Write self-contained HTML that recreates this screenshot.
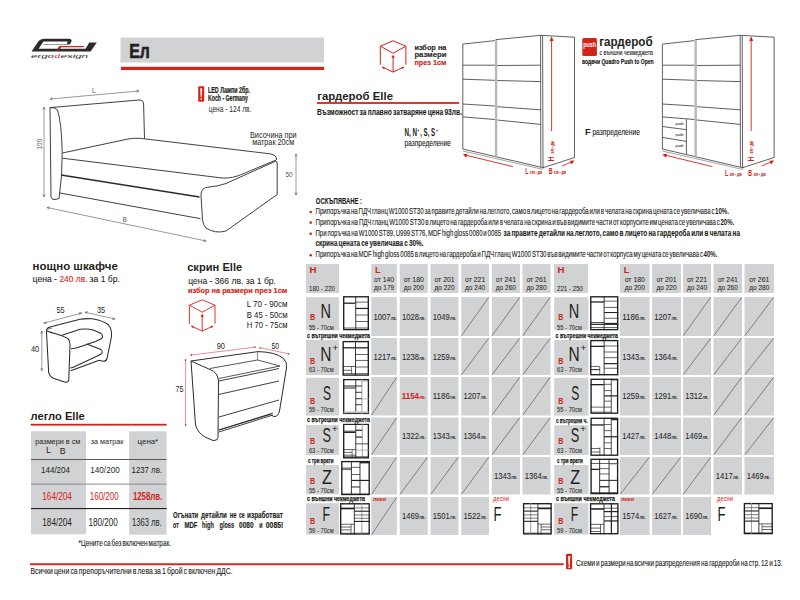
<!DOCTYPE html>
<html><head><meta charset="utf-8"><title>Elle</title>
<style>
html,body{margin:0;padding:0;background:#fff;}
svg{display:block;}
text{font-family:"Liberation Sans", sans-serif;}
</style></head>
<body>
<svg width="800" height="600" viewBox="0 0 800 600">
<rect x="0" y="0" width="800" height="600" fill="#fff"/>
<g>
<path d="M31.5,51.5 L39,40.5 L44,40.8 L38.6,48.8 L58.2,48.8 L56.4,51.5 Z" stroke="none" stroke-width="0" fill="#2b2a29"/>
<path d="M39,40.5 Q41,38.8 45,38.8 L68.5,38.8 Q72.8,39 71.2,42 L69.8,44.3 L66.6,44.3 L67.8,41.6 L44,41.6 Z" stroke="none" stroke-width="0" fill="#2b2a29"/>
<path d="M43.6,44 L70,44 L69.4,45.1 L42.9,45.1 Z" stroke="none" stroke-width="0" fill="#9a9a9a"/>
<path d="M56.9,49.6 L59.4,46.1 L84.2,46.1 L83.6,47.3 L61.2,47.3 L59.6,49.6 Z" stroke="none" stroke-width="0" fill="#d22418"/>
<path d="M89.2,42.4 L96.8,42.4 L90.6,51.5 L56.4,51.5 L58.2,48.8 L85.6,48.8 Z" stroke="none" stroke-width="0" fill="#2b2a29"/>
</g>
<text x="31" y="57.6" font-size="5.6" textLength="23" lengthAdjust="spacingAndGlyphs" fill="#2b2a29" font-style="italic">ergo</text>
<text x="54.5" y="57.6" font-size="5.6" textLength="5.5" lengthAdjust="spacingAndGlyphs" fill="#d22418" font-style="italic">d</text>
<text x="60.5" y="57.6" font-size="5.6" textLength="27.5" lengthAdjust="spacingAndGlyphs" fill="#2b2a29" font-style="italic">esign</text>
<rect x="120.5" y="37.5" width="203.50" height="25.00" fill="#d1d2d4"/>
<text x="129.2" y="58.4" font-size="20.35" font-weight="bold" textLength="20.6" lengthAdjust="spacingAndGlyphs" fill="#231f20" stroke="#231f20" stroke-width="0.6">Ел</text>
<rect x="121" y="66.8" width="203.20" height="3.20" fill="#d22418"/>
<path d="M50,107.6 L139,100 Q143.5,99.8 143.6,104 L144.5,138.5" stroke="#2b2b2b" stroke-width="0.9" fill="none"/>
<path d="M50,107.6 L51,197 Q51.5,200 55,199.5 L59,198.5 Q62.5,176 62.2,152 Q61.5,122 57.5,110 Q55,107 50,107.6" stroke="#2b2b2b" stroke-width="0.9" fill="none"/>
<path d="M62.4,153 L128,139 Q133,138 140,138.3 L270,153.8 Q277,155 276.5,160" stroke="#2b2b2b" stroke-width="0.9" fill="none"/>
<path d="M62.4,158.2 L222,178 Q232,179 245,173 L276,160" stroke="#2b2b2b" stroke-width="0.9" fill="none"/>
<path d="M61,175 L199.5,197" stroke="#2b2b2b" stroke-width="1.3" fill="none"/>
<path d="M60,193 L200.5,218.7" stroke="#2b2b2b" stroke-width="0.9" fill="none"/>
<path d="M201,195 Q200.8,187.5 209,187 Q217,186.6 226,183.5 L276,161 L277.2,163 L277.2,194.5 L226,231 Q215,234 206,228 Q203,225 202.5,220 Z" stroke="#2b2b2b" stroke-width="0.9" fill="none"/>
<path d="M50,99 L139,91" stroke="#555" stroke-width="0.6" fill="none"/>
<path d="M50,99 l2.5,-1.6 M50,99 l2.7,0.9 M139,91 l-2.5,1.6 M139,91 l-2.7,-0.9" stroke="#555" stroke-width="0.6" fill="none"/>
<text x="92" y="93" font-size="6.5" fill="#555">L</text>
<path d="M44,107 L44,197" stroke="#555" stroke-width="0.6" fill="none"/>
<path d="M44,107 l-1.2,2.6 M44,107 l1.2,2.6 M44,197 l-1.2,-2.6 M44,197 l1.2,-2.6" stroke="#555" stroke-width="0.6" fill="none"/>
<text x="0" y="0" font-size="6.5" fill="#555" transform="translate(41.5,149.5) rotate(-90)">100</text>
<path d="M47,207.5 L206,241" stroke="#555" stroke-width="0.6" fill="none"/>
<path d="M47,207.5 l2.8,-0.5 M47,207.5 l2.2,1.6 M206,241 l-2.8,0.5 M206,241 l-2.2,-1.6" stroke="#555" stroke-width="0.6" fill="none"/>
<text x="122.5" y="221.5" font-size="6.5" fill="#555">B</text>
<path d="M296,154 L296,195" stroke="#555" stroke-width="0.6" fill="none"/>
<path d="M296,154 l-1.2,2.6 M296,154 l1.2,2.6 M296,195 l-1.2,-2.6 M296,195 l1.2,-2.6" stroke="#555" stroke-width="0.6" fill="none"/>
<text x="285.5" y="177" font-size="6.5" fill="#555">50</text>
<rect x="198.2" y="86.3" width="6" height="15.4" rx="1" fill="#d22418"/>
<path d="M200.2,88.3 L202.2,88.3 L201.7,97 L200.7,97 Z" stroke="none" stroke-width="0" fill="#fff"/>
<rect x="200.6" y="98" width="1.20" height="1.70" fill="#fff"/>
<text x="208" y="93.2" font-size="8.28" font-weight="bold" textLength="42" lengthAdjust="spacingAndGlyphs" fill="#231f20" stroke="#231f20" stroke-width="0.2">LED Лампи 2бр.</text>
<text x="208" y="101" font-size="8.28" font-weight="bold" textLength="40" lengthAdjust="spacingAndGlyphs" fill="#231f20" stroke="#231f20" stroke-width="0.2">Koch - Germany</text>
<text x="208.7" y="112.2" font-size="8.58" textLength="42.8" lengthAdjust="spacingAndGlyphs" fill="#231f20">цена -  124 лв.</text>
<text x="250" y="137.7" font-size="8.58" textLength="46.7" lengthAdjust="spacingAndGlyphs" fill="#231f20">Височина при</text>
<text x="252.2" y="145.2" font-size="8.58" textLength="42" lengthAdjust="spacingAndGlyphs" fill="#231f20">матрак 20см</text>
<path d="M393.1,40.8 L380.3,46.199999999999996 L380.3,64.8 M393.1,40.8 L405.90000000000003,46.199999999999996 L405.90000000000003,64.8 M380.3,46.199999999999996 L393.1,53.22 L405.90000000000003,46.199999999999996" stroke="#d22418" stroke-width="1.0" fill="none"/>
<path d="M393.1,72.1 L393.1,56.22 M393.1,72.1 L382.3,67.1 M393.1,72.1 L403.90000000000003,67.1" stroke="#d22418" stroke-width="1.0" fill="none"/>
<path d="M393.1,54.72 l-1.7600000000000002,3.08 l3.5200000000000005,0 Z" stroke="none" stroke-width="0" fill="#d22418"/>
<path d="M381.90000000000003,66.8 l2.9,0.3 l-1.0,2.2 Z" stroke="none" stroke-width="0" fill="#d22418"/>
<path d="M404.3,66.8 l-2.9,0.3 l1.0,2.2 Z" stroke="none" stroke-width="0" fill="#d22418"/>
<text x="414.4" y="50.3" font-size="7.56" font-weight="bold" textLength="32" lengthAdjust="spacingAndGlyphs" fill="#2b2a29" stroke="#2b2a29" stroke-width="0.15">избор на</text>
<text x="414.4" y="57.4" font-size="7.56" font-weight="bold" textLength="32" lengthAdjust="spacingAndGlyphs" fill="#2b2a29" stroke="#2b2a29" stroke-width="0.15">размери</text>
<text x="414.4" y="65.3" font-size="7.56" font-weight="bold" textLength="32" lengthAdjust="spacingAndGlyphs" fill="#d22418" stroke="#d22418" stroke-width="0.15">през 1см</text>
<path d="M462.8,44.1 L495.0,40.6 M495.5,39.7 L540.6,35.3 L574.5,37.2 L574.5,157.5 L543.0,167.7" stroke="#2b2b2b" stroke-width="0.75" fill="none"/>
<path d="M462.8,44.1 L462.8,149 L543.0,167.7" stroke="#2b2b2b" stroke-width="0.75" fill="none"/>
<path d="M462.8,151 L543.0,169.4" stroke="#666" stroke-width="0.6" fill="none"/>
<path d="M540.6,35.3 L540.8,167 M542.6,35.8 L543.0,168.5" stroke="#2b2b2b" stroke-width="0.75" fill="none"/>
<rect x="494.9" y="40.3" width="2.40" height="116.20" fill="#b8b8ba"/>
<path d="M462.8,65.2 L494.9,65.2 M497.3,65.5 L540.6,65.2" stroke="#2b2b2b" stroke-width="0.75" fill="none"/>
<path d="M462.8,79.2 L494.9,80.3 M497.3,80.5 L540.6,81.6" stroke="#2b2b2b" stroke-width="0.75" fill="none"/>
<path d="M462.8,104 L494.9,106 M497.3,106.7 L540.6,109.8" stroke="#2b2b2b" stroke-width="0.75" fill="none"/>
<path d="M462.8,116.9 L494.9,119.5 M497.3,120 L540.6,124.4" stroke="#2b2b2b" stroke-width="0.75" fill="none"/>
<path d="M551.6,38 L551.6,131" stroke="#d22418" stroke-width="0.9" fill="none"/>
<path d="M551.6,36.3 l-2,4.6 l4,0 Z" stroke="none" stroke-width="0" fill="#d22418"/>
<text x="0" y="0" font-size="8.28" font-weight="bold" textLength="4.8" lengthAdjust="spacingAndGlyphs" fill="#d22418" transform="translate(554.2,161.5) rotate(-90)">H</text>
<text x="0" y="0" font-size="5.0" font-weight="bold" textLength="12.2" lengthAdjust="spacingAndGlyphs" fill="#d22418" transform="translate(553.8,153.4) rotate(-90)" stroke="#d22418" stroke-width="0.1">sm - дм</text>
<path d="M464.5,154.9 L512.8,166.6" stroke="#d22418" stroke-width="0.9" fill="none"/>
<path d="M462.8,154.4 l4.6,-0.9 l-1,4.2 Z" stroke="none" stroke-width="0" fill="#d22418"/>
<path d="M562.0,166.1 L572.5,161.5" stroke="#d22418" stroke-width="0.9" fill="none"/>
<path d="M574.5,160.6 l-4.6,0.1 l1.6,3.9 Z" stroke="none" stroke-width="0" fill="#d22418"/>
<text x="525.3" y="173.9" font-size="8.58" font-weight="bold" textLength="3.2" lengthAdjust="spacingAndGlyphs" fill="#d22418">L</text>
<text x="529.8" y="173.6" font-size="5.0" font-weight="bold" textLength="12.2" lengthAdjust="spacingAndGlyphs" fill="#d22418" stroke="#d22418" stroke-width="0.1">sm - дм</text>
<text x="548.7" y="173.9" font-size="8.58" font-weight="bold" textLength="3.8" lengthAdjust="spacingAndGlyphs" fill="#d22418">B</text>
<text x="553.8" y="173.6" font-size="5.0" font-weight="bold" textLength="12.2" lengthAdjust="spacingAndGlyphs" fill="#d22418" stroke="#d22418" stroke-width="0.1">sm - дм</text>
<path d="M662.4,44.1 L694.6,40.6 M695.1,39.7 L740.2,35.3 L774.1,37.2 L774.1,157.5 L742.6,167.7" stroke="#2b2b2b" stroke-width="0.75" fill="none"/>
<path d="M662.4,44.1 L662.4,149 L742.6,167.7" stroke="#2b2b2b" stroke-width="0.75" fill="none"/>
<path d="M662.4,151 L742.6,169.4" stroke="#666" stroke-width="0.6" fill="none"/>
<path d="M740.2,35.3 L740.4,167 M742.2,35.8 L742.6,168.5" stroke="#2b2b2b" stroke-width="0.75" fill="none"/>
<rect x="694.5" y="40.3" width="2.40" height="116.20" fill="#b8b8ba"/>
<path d="M662.4,65.2 L694.5,65.2 M696.9,65.5 L740.2,65.2" stroke="#2b2b2b" stroke-width="0.75" fill="none"/>
<path d="M662.4,79.2 L694.5,80.3 M696.9,80.5 L740.2,81.6" stroke="#2b2b2b" stroke-width="0.75" fill="none"/>
<path d="M662.4,104 L694.5,106 M696.9,106.7 L740.2,109.8" stroke="#2b2b2b" stroke-width="0.75" fill="none"/>
<path d="M662.4,116.9 L694.5,119.5 M696.9,120 L740.2,124.4" stroke="#2b2b2b" stroke-width="0.75" fill="none"/>
<path d="M662.4,126.5 L686.4,129.7 M662.4,137.4 L686.4,141.4 M686.4,119.2 L686.4,154" stroke="#2b2b2b" stroke-width="0.75" fill="none"/>
<text x="675.6" y="124.5" font-size="3.6" textLength="8" lengthAdjust="spacingAndGlyphs" fill="#333" stroke="#333" stroke-width="0.08">push</text>
<text x="675.6" y="135.5" font-size="3.6" textLength="8" lengthAdjust="spacingAndGlyphs" fill="#333" stroke="#333" stroke-width="0.08">push</text>
<text x="675.6" y="147" font-size="3.6" textLength="8" lengthAdjust="spacingAndGlyphs" fill="#333" stroke="#333" stroke-width="0.08">push</text>
<path d="M751.2,38 L751.2,131" stroke="#d22418" stroke-width="0.9" fill="none"/>
<path d="M751.2,36.3 l-2,4.6 l4,0 Z" stroke="none" stroke-width="0" fill="#d22418"/>
<text x="0" y="0" font-size="8.28" font-weight="bold" textLength="4.8" lengthAdjust="spacingAndGlyphs" fill="#d22418" transform="translate(753.8,161.5) rotate(-90)">H</text>
<text x="0" y="0" font-size="5.0" font-weight="bold" textLength="12.2" lengthAdjust="spacingAndGlyphs" fill="#d22418" transform="translate(753.4,153.4) rotate(-90)" stroke="#d22418" stroke-width="0.1">sm - дм</text>
<path d="M664.1,154.9 L712.4,166.6" stroke="#d22418" stroke-width="0.9" fill="none"/>
<path d="M662.4,154.4 l4.6,-0.9 l-1,4.2 Z" stroke="none" stroke-width="0" fill="#d22418"/>
<path d="M761.6,166.1 L772.1,161.5" stroke="#d22418" stroke-width="0.9" fill="none"/>
<path d="M774.1,160.6 l-4.6,0.1 l1.6,3.9 Z" stroke="none" stroke-width="0" fill="#d22418"/>
<text x="724.9" y="176.0" font-size="8.58" font-weight="bold" textLength="3.2" lengthAdjust="spacingAndGlyphs" fill="#d22418">L</text>
<text x="729.4" y="175.7" font-size="5.0" font-weight="bold" textLength="12.2" lengthAdjust="spacingAndGlyphs" fill="#d22418" stroke="#d22418" stroke-width="0.1">sm - дм</text>
<text x="748.3" y="176.0" font-size="8.58" font-weight="bold" textLength="3.8" lengthAdjust="spacingAndGlyphs" fill="#d22418">B</text>
<text x="753.4" y="175.7" font-size="5.0" font-weight="bold" textLength="12.2" lengthAdjust="spacingAndGlyphs" fill="#d22418" stroke="#d22418" stroke-width="0.1">sm - дм</text>
<rect x="582.3" y="37.9" width="14.6" height="18" rx="1.5" fill="#d22418"/>
<text x="583.2" y="46.5" font-size="7.56" font-weight="bold" textLength="12.8" lengthAdjust="spacingAndGlyphs" fill="#fff">push</text>
<text x="599.2" y="45.7" font-size="12.06" font-weight="bold" textLength="53.4" lengthAdjust="spacingAndGlyphs" fill="#231f20">гардероб</text>
<text x="599.5" y="55" font-size="6.6" textLength="53.5" lengthAdjust="spacingAndGlyphs" fill="#231f20" stroke="#231f20" stroke-width="0.12">с външни чекмеджета</text>
<text x="582" y="63.7" font-size="7.56" font-weight="bold" textLength="71.7" lengthAdjust="spacingAndGlyphs" fill="#231f20" stroke="#231f20" stroke-width="0.2">водачи Quadro Push to Open</text>
<text x="317.3" y="99.6" font-size="11.19" font-weight="bold" textLength="75.7" lengthAdjust="spacingAndGlyphs" fill="#231f20">гардероб Elle</text>
<rect x="317" y="102.1" width="142.00" height="1.80" fill="#d22418"/>
<text x="317" y="115" font-size="9.45" font-weight="bold" textLength="145" lengthAdjust="spacingAndGlyphs" fill="#231f20" word-spacing="-1" stroke="#231f20" stroke-width="0.1">Възможност за плавно затваряне цена 93лв.</text>
<text x="404.4" y="135.7" font-size="11.19" font-weight="bold" textLength="12.5" lengthAdjust="spacingAndGlyphs" fill="#231f20">N, N</text>
<text x="417.2" y="131.5" font-size="4.5" font-weight="bold" textLength="2" lengthAdjust="spacingAndGlyphs" fill="#231f20">+</text>
<text x="420.2" y="135.7" font-size="11.19" font-weight="bold" textLength="15" lengthAdjust="spacingAndGlyphs" fill="#231f20">, S, S</text>
<text x="436.0" y="131.5" font-size="4.5" font-weight="bold" textLength="2" lengthAdjust="spacingAndGlyphs" fill="#231f20">+</text>
<text x="404.6" y="145.8" font-size="9.01" textLength="46.4" lengthAdjust="spacingAndGlyphs" fill="#231f20" stroke="#231f20" stroke-width="0.12">разпределение</text>
<text x="584.9" y="134.7" font-size="9.16" font-weight="bold" fill="#231f20">F</text>
<text x="592.4" y="134.7" font-size="9.01" textLength="47.6" lengthAdjust="spacingAndGlyphs" fill="#231f20" stroke="#231f20" stroke-width="0.12">разпределение</text>
<text x="315.8" y="203.5" font-size="8.72" font-weight="bold" textLength="46.2" lengthAdjust="spacingAndGlyphs" fill="#231f20" stroke="#231f20" stroke-width="0.15">ОСКЪПЯВАНЕ :</text>
<circle cx="310.7" cy="212.0" r="1.3" fill="#d22418"/>
<text x="315.5" y="214.0" font-size="8.72" textLength="399.0" lengthAdjust="spacingAndGlyphs" fill="#231f20" word-spacing="-1.2" stroke="#231f20" stroke-width="0.12">Припоръчка на ПДЧ гланц W1000 ST30  за правите детайли на леглото, само в лицето на гардероба или в челата на скрина цената се увеличава с </text>
<text x="715" y="214.0" font-size="8.72" font-weight="bold" textLength="14" lengthAdjust="spacingAndGlyphs" fill="#231f20">10%.</text>
<circle cx="310.7" cy="222.6" r="1.3" fill="#d22418"/>
<text x="315.5" y="224.6" font-size="8.72" textLength="404.4" lengthAdjust="spacingAndGlyphs" fill="#231f20" word-spacing="-1.2" stroke="#231f20" stroke-width="0.12">Припоръчка на ПДЧ гланц W1000 ST30 в лицето на гардероба или в челата на скрина и във видимите части от корпусите им цената се увеличава с  </text>
<text x="720.4" y="224.6" font-size="8.72" font-weight="bold" textLength="14" lengthAdjust="spacingAndGlyphs" fill="#231f20">20%.</text>
<circle cx="310.7" cy="233.8" r="1.3" fill="#d22418"/>
<text x="315.5" y="235.8" font-size="8.72" textLength="185.5" lengthAdjust="spacingAndGlyphs" fill="#231f20" word-spacing="-1.2" stroke="#231f20" stroke-width="0.12">При поръчка на W1000 ST89, U999 ST76, MDF high gloss 0080 и 0085 </text>
<text x="503.6" y="235.8" font-size="8.72" font-weight="bold" textLength="236.39999999999998" lengthAdjust="spacingAndGlyphs" fill="#231f20" word-spacing="-0.8" stroke="#231f20" stroke-width="0.1">за правите детайли на леглото, само в лицето на гардероба или в челата на</text>
<circle cx="310.7" cy="255.2" r="1.3" fill="#d22418"/>
<text x="315.5" y="257.2" font-size="8.72" textLength="387.5" lengthAdjust="spacingAndGlyphs" fill="#231f20" word-spacing="-1.2" stroke="#231f20" stroke-width="0.12">Припоръчка на MDF high gloss  0085 в лицето на гардероба и ПДЧ гланц W1000 ST30 във видимите части от корпуса му цената се увеличава с </text>
<text x="703.5" y="257.2" font-size="8.72" font-weight="bold" textLength="14" lengthAdjust="spacingAndGlyphs" fill="#231f20">40%.</text>
<text x="315.5" y="246.2" font-size="8.72" font-weight="bold" textLength="108" lengthAdjust="spacingAndGlyphs" fill="#231f20" word-spacing="-0.8" stroke="#231f20" stroke-width="0.1">скрина цената се увеличава с  30%.</text>
<rect x="306" y="264" width="33.00" height="29.00" fill="#d1d2d4"/>
<text x="309.5" y="273" font-size="9.74" font-weight="bold" fill="#d22418">H</text>
<text x="309" y="291.2" font-size="7.7" textLength="26" lengthAdjust="spacingAndGlyphs" fill="#231f20" stroke="#231f20" stroke-width="0.04">180 - 220</text>
<rect x="371.25" y="264" width="25.65" height="29.00" fill="#d1d2d4"/>
<text x="375.0" y="273" font-size="9.16" font-weight="bold" fill="#d22418">L</text>
<text x="373.97" y="281.6" font-size="7.7" textLength="20.2" lengthAdjust="spacingAndGlyphs" fill="#231f20" stroke="#231f20" stroke-width="0.05">от 140</text>
<text x="373.97" y="289.7" font-size="7.7" textLength="20.2" lengthAdjust="spacingAndGlyphs" fill="#231f20" stroke="#231f20" stroke-width="0.05">до 179</text>
<rect x="399.75" y="264" width="28.00" height="29.00" fill="#d1d2d4"/>
<text x="403.65" y="281.6" font-size="7.7" textLength="20.2" lengthAdjust="spacingAndGlyphs" fill="#231f20" stroke="#231f20" stroke-width="0.05">от 180</text>
<text x="403.65" y="289.7" font-size="7.7" textLength="20.2" lengthAdjust="spacingAndGlyphs" fill="#231f20" stroke="#231f20" stroke-width="0.05">до 200</text>
<rect x="430.6" y="264" width="27.90" height="29.00" fill="#d1d2d4"/>
<text x="434.45" y="281.6" font-size="7.7" textLength="20.2" lengthAdjust="spacingAndGlyphs" fill="#231f20" stroke="#231f20" stroke-width="0.05">от 201</text>
<text x="434.45" y="289.7" font-size="7.7" textLength="20.2" lengthAdjust="spacingAndGlyphs" fill="#231f20" stroke="#231f20" stroke-width="0.05">до 220</text>
<rect x="461.25" y="264" width="27.75" height="29.00" fill="#d1d2d4"/>
<text x="465.02" y="281.6" font-size="7.7" textLength="20.2" lengthAdjust="spacingAndGlyphs" fill="#231f20" stroke="#231f20" stroke-width="0.05">от 221</text>
<text x="465.02" y="289.7" font-size="7.7" textLength="20.2" lengthAdjust="spacingAndGlyphs" fill="#231f20" stroke="#231f20" stroke-width="0.05">до 240</text>
<rect x="491.75" y="264" width="28.25" height="29.00" fill="#d1d2d4"/>
<text x="495.77" y="281.6" font-size="7.7" textLength="20.2" lengthAdjust="spacingAndGlyphs" fill="#231f20" stroke="#231f20" stroke-width="0.05">от 241</text>
<text x="495.77" y="289.7" font-size="7.7" textLength="20.2" lengthAdjust="spacingAndGlyphs" fill="#231f20" stroke="#231f20" stroke-width="0.05">до 260</text>
<rect x="522.5" y="264" width="28.00" height="29.00" fill="#d1d2d4"/>
<text x="526.4" y="281.6" font-size="7.7" textLength="20.2" lengthAdjust="spacingAndGlyphs" fill="#231f20" stroke="#231f20" stroke-width="0.05">от 261</text>
<text x="526.4" y="289.7" font-size="7.7" textLength="20.2" lengthAdjust="spacingAndGlyphs" fill="#231f20" stroke="#231f20" stroke-width="0.05">до 280</text>
<rect x="554" y="264" width="34.00" height="29.00" fill="#d1d2d4"/>
<text x="557.5" y="273" font-size="9.74" font-weight="bold" fill="#d22418">H</text>
<text x="557" y="291.2" font-size="7.7" textLength="26" lengthAdjust="spacingAndGlyphs" fill="#231f20" stroke="#231f20" stroke-width="0.04">221 - 250</text>
<rect x="620" y="264" width="29.60" height="29.00" fill="#d1d2d4"/>
<text x="623.75" y="273" font-size="9.16" font-weight="bold" fill="#d22418">L</text>
<text x="624.7" y="281.6" font-size="7.7" textLength="20.2" lengthAdjust="spacingAndGlyphs" fill="#231f20" stroke="#231f20" stroke-width="0.05">от 180</text>
<text x="624.7" y="289.7" font-size="7.7" textLength="20.2" lengthAdjust="spacingAndGlyphs" fill="#231f20" stroke="#231f20" stroke-width="0.05">до 200</text>
<rect x="652" y="264" width="29.00" height="29.00" fill="#d1d2d4"/>
<text x="656.4" y="281.6" font-size="7.7" textLength="20.2" lengthAdjust="spacingAndGlyphs" fill="#231f20" stroke="#231f20" stroke-width="0.05">от 201</text>
<text x="656.4" y="289.7" font-size="7.7" textLength="20.2" lengthAdjust="spacingAndGlyphs" fill="#231f20" stroke="#231f20" stroke-width="0.05">до 220</text>
<rect x="683" y="264" width="28.00" height="29.00" fill="#d1d2d4"/>
<text x="686.9" y="281.6" font-size="7.7" textLength="20.2" lengthAdjust="spacingAndGlyphs" fill="#231f20" stroke="#231f20" stroke-width="0.05">от 221</text>
<text x="686.9" y="289.7" font-size="7.7" textLength="20.2" lengthAdjust="spacingAndGlyphs" fill="#231f20" stroke="#231f20" stroke-width="0.05">до 240</text>
<rect x="713.5" y="264" width="28.50" height="29.00" fill="#d1d2d4"/>
<text x="717.65" y="281.6" font-size="7.7" textLength="20.2" lengthAdjust="spacingAndGlyphs" fill="#231f20" stroke="#231f20" stroke-width="0.05">от 241</text>
<text x="717.65" y="289.7" font-size="7.7" textLength="20.2" lengthAdjust="spacingAndGlyphs" fill="#231f20" stroke="#231f20" stroke-width="0.05">до 260</text>
<rect x="744.5" y="264" width="29.50" height="29.00" fill="#d1d2d4"/>
<text x="749.15" y="281.6" font-size="7.7" textLength="20.2" lengthAdjust="spacingAndGlyphs" fill="#231f20" stroke="#231f20" stroke-width="0.05">от 261</text>
<text x="749.15" y="289.7" font-size="7.7" textLength="20.2" lengthAdjust="spacingAndGlyphs" fill="#231f20" stroke="#231f20" stroke-width="0.05">до 280</text>
<rect x="306" y="297.2" width="33.00" height="33.20" fill="#d1d2d4"/>
<text x="320.6" y="317.5" font-size="20.8" textLength="10.5" lengthAdjust="spacingAndGlyphs" fill="#231f20">N</text>
<text x="310.0" y="320.0" font-size="8.14" font-weight="bold" textLength="5.2" lengthAdjust="spacingAndGlyphs" fill="#d22418">B</text>
<text x="308.9" y="330.0" font-size="7.7" textLength="24.8" lengthAdjust="spacingAndGlyphs" fill="#231f20" stroke="#231f20" stroke-width="0.04">55 - 70см</text>
<rect x="306" y="340.0" width="33.00" height="35.00" fill="#d1d2d4"/>
<text x="320.2" y="360.5" font-size="20.0" textLength="11.2" lengthAdjust="spacingAndGlyphs" fill="#231f20">N</text>
<text x="332.2" y="350.5" font-size="9" textLength="6" lengthAdjust="spacingAndGlyphs" fill="#231f20">+</text>
<text x="310.0" y="363.5" font-size="8.14" font-weight="bold" textLength="5.2" lengthAdjust="spacingAndGlyphs" fill="#d22418">B</text>
<text x="308.9" y="372.2" font-size="7.7" textLength="24.8" lengthAdjust="spacingAndGlyphs" fill="#231f20" stroke="#231f20" stroke-width="0.04">63 - 70см</text>
<rect x="306" y="377.8" width="33.00" height="37.80" fill="#d1d2d4"/>
<text x="323.0" y="400.1" font-size="20.8" textLength="8.0" lengthAdjust="spacingAndGlyphs" fill="#231f20">S</text>
<text x="310.0" y="403.7" font-size="8.14" font-weight="bold" textLength="5.2" lengthAdjust="spacingAndGlyphs" fill="#d22418">B</text>
<text x="308.9" y="412.3" font-size="7.7" textLength="24.8" lengthAdjust="spacingAndGlyphs" fill="#231f20" stroke="#231f20" stroke-width="0.04">55 - 70см</text>
<rect x="306" y="425.0" width="33.00" height="30.00" fill="#d1d2d4"/>
<text x="322.5" y="441.8" font-size="20.0" textLength="8.5" lengthAdjust="spacingAndGlyphs" fill="#231f20">S</text>
<text x="331.8" y="431.8" font-size="9" textLength="6" lengthAdjust="spacingAndGlyphs" fill="#231f20">+</text>
<text x="310.0" y="443.9" font-size="8.14" font-weight="bold" textLength="5.2" lengthAdjust="spacingAndGlyphs" fill="#d22418">B</text>
<text x="308.9" y="452.8" font-size="7.7" textLength="24.8" lengthAdjust="spacingAndGlyphs" fill="#231f20" stroke="#231f20" stroke-width="0.04">63 - 70см</text>
<rect x="306" y="465.0" width="33.00" height="29.40" fill="#d1d2d4"/>
<text x="322.0" y="483.6" font-size="19.8" textLength="9.9" lengthAdjust="spacingAndGlyphs" fill="#231f20">Z</text>
<text x="310.0" y="483.6" font-size="8.14" font-weight="bold" textLength="5.2" lengthAdjust="spacingAndGlyphs" fill="#d22418">B</text>
<text x="308.9" y="492.5" font-size="7.7" textLength="24.8" lengthAdjust="spacingAndGlyphs" fill="#231f20" stroke="#231f20" stroke-width="0.04">55 - 70см</text>
<rect x="306" y="503.2" width="33.00" height="31.40" fill="#d1d2d4"/>
<text x="322.5" y="520.6" font-size="19.8" textLength="7.5" lengthAdjust="spacingAndGlyphs" fill="#231f20">F</text>
<text x="310.0" y="523.9" font-size="8.14" font-weight="bold" textLength="5.2" lengthAdjust="spacingAndGlyphs" fill="#d22418">B</text>
<text x="308.9" y="532.8" font-size="7.7" textLength="24.8" lengthAdjust="spacingAndGlyphs" fill="#231f20" stroke="#231f20" stroke-width="0.04">59 - 70см</text>
<rect x="343.70000000000005" y="296.8" width="24.60" height="32.80" fill="#fff" stroke="#1e1e1e" stroke-width="1.35"/>
<line x1="355.74" y1="296.2" x2="355.74" y2="330.2" stroke="#222" stroke-width="0.9"/>
<line x1="343.1" y1="303.2" x2="355.74" y2="303.2" stroke="#222" stroke-width="1.3"/>
<line x1="343.1" y1="327.99" x2="368.9" y2="327.99" stroke="#222" stroke-width="0.7"/>
<line x1="355.74" y1="302.12" x2="368.9" y2="302.12" stroke="#222" stroke-width="0.7"/>
<line x1="355.74" y1="315.0" x2="368.9" y2="315.0" stroke="#222" stroke-width="0.7"/>
<line x1="355.74" y1="321.5" x2="368.9" y2="321.5" stroke="#222" stroke-width="0.7"/>
<line x1="355.74" y1="308.44" x2="368.9" y2="308.44" stroke="#222" stroke-width="1.2"/>
<rect x="343.20000000000005" y="341.6" width="25.10" height="33.50" fill="#fff" stroke="#1e1e1e" stroke-width="1.35"/>
<line x1="355.49" y1="341.0" x2="355.49" y2="375.7" stroke="#222" stroke-width="0.9"/>
<line x1="342.6" y1="347.8" x2="368.9" y2="347.8" stroke="#222" stroke-width="1.3"/>
<line x1="342.6" y1="366.5" x2="355.49" y2="366.5" stroke="#222" stroke-width="0.7"/>
<line x1="342.6" y1="370.29" x2="351.54" y2="370.29" stroke="#222" stroke-width="0.7"/>
<line x1="342.6" y1="373.62" x2="368.9" y2="373.62" stroke="#222" stroke-width="0.7"/>
<line x1="351.54" y1="366.5" x2="351.54" y2="373.62" stroke="#222" stroke-width="0.6"/>
<line x1="355.49" y1="354.53" x2="368.9" y2="354.53" stroke="#222" stroke-width="0.7"/>
<line x1="355.49" y1="360.43" x2="368.9" y2="360.43" stroke="#222" stroke-width="0.7"/>
<line x1="355.49" y1="367.02" x2="368.9" y2="367.02" stroke="#222" stroke-width="0.7"/>
<rect x="343.70000000000005" y="379.6" width="24.70" height="33.80" fill="#fff" stroke="#1e1e1e" stroke-width="1.35"/>
<line x1="355.79" y1="379.0" x2="355.79" y2="414.0" stroke="#222" stroke-width="0.9"/>
<line x1="361.9" y1="379.0" x2="361.9" y2="414.0" stroke="#999" stroke-width="0.9"/>
<line x1="343.1" y1="386.0" x2="355.79" y2="386.0" stroke="#222" stroke-width="1.0"/>
<line x1="343.1" y1="388.0" x2="355.79" y2="388.0" stroke="#222" stroke-width="1.0"/>
<rect x="343.62" y="411.41" width="24.86" height="1.75" fill="#bbb"/>
<line x1="355.79" y1="386.0" x2="361.9" y2="386.0" stroke="#222" stroke-width="0.9"/>
<line x1="355.79" y1="392.3" x2="361.9" y2="392.3" stroke="#222" stroke-width="0.9"/>
<line x1="355.79" y1="398.7" x2="361.9" y2="398.7" stroke="#222" stroke-width="0.9"/>
<line x1="355.79" y1="404.69" x2="361.9" y2="404.69" stroke="#222" stroke-width="0.9"/>
<line x1="361.9" y1="381.0" x2="369.0" y2="381.0" stroke="#777" stroke-width="0.6"/>
<line x1="361.9" y1="398.99" x2="369.0" y2="398.99" stroke="#999" stroke-width="0.6"/>
<rect x="343.70000000000005" y="424.3" width="24.70" height="33.50" fill="#fff" stroke="#1e1e1e" stroke-width="1.35"/>
<line x1="355.79" y1="423.7" x2="355.79" y2="458.4" stroke="#222" stroke-width="0.9"/>
<line x1="362.27" y1="423.7" x2="362.27" y2="458.4" stroke="#999" stroke-width="0.9"/>
<line x1="343.1" y1="431.23" x2="355.79" y2="431.23" stroke="#222" stroke-width="0.9"/>
<line x1="343.1" y1="432.44" x2="355.79" y2="432.44" stroke="#222" stroke-width="1.1"/>
<line x1="343.1" y1="449.55" x2="355.79" y2="449.55" stroke="#222" stroke-width="0.7"/>
<line x1="343.1" y1="452.36" x2="351.91" y2="452.36" stroke="#222" stroke-width="0.7"/>
<line x1="343.1" y1="455.17" x2="355.79" y2="455.17" stroke="#222" stroke-width="0.7"/>
<line x1="352.17" y1="449.55" x2="352.17" y2="457.01" stroke="#222" stroke-width="0.6"/>
<line x1="355.79" y1="430.29" x2="362.27" y2="430.29" stroke="#222" stroke-width="1.2"/>
<line x1="355.79" y1="437.09" x2="362.27" y2="437.09" stroke="#222" stroke-width="1.2"/>
<line x1="355.79" y1="443.83" x2="369.0" y2="443.83" stroke="#222" stroke-width="0.8"/>
<line x1="355.79" y1="450.07" x2="369.0" y2="450.07" stroke="#888" stroke-width="0.6"/>
<line x1="343.1" y1="456.84" x2="369.0" y2="456.84" stroke="#222" stroke-width="0.8"/>
<rect x="341.8" y="461.6" width="27.40" height="32.90" fill="#fff" stroke="#1e1e1e" stroke-width="1.35"/>
<line x1="351.41" y1="461.0" x2="351.41" y2="495.1" stroke="#222" stroke-width="0.9"/>
<line x1="359.99" y1="461.0" x2="359.99" y2="495.1" stroke="#222" stroke-width="0.9"/>
<line x1="341.2" y1="468.09" x2="351.41" y2="468.09" stroke="#222" stroke-width="0.8"/>
<line x1="341.2" y1="469.35" x2="351.41" y2="469.35" stroke="#222" stroke-width="0.8"/>
<line x1="351.41" y1="467.31" x2="359.99" y2="467.31" stroke="#222" stroke-width="0.7"/>
<line x1="351.41" y1="474.5" x2="359.99" y2="474.5" stroke="#222" stroke-width="0.7"/>
<line x1="351.41" y1="480.44" x2="369.8" y2="480.44" stroke="#222" stroke-width="1.2"/>
<line x1="351.41" y1="486.98" x2="359.99" y2="486.98" stroke="#222" stroke-width="1.0"/>
<line x1="359.99" y1="462.7" x2="369.8" y2="462.7" stroke="#222" stroke-width="1.3"/>
<line x1="341.2" y1="493.91" x2="369.8" y2="493.91" stroke="#222" stroke-width="0.6"/>
<rect x="340.70000000000005" y="503.8" width="28.50" height="30.20" fill="#fff" stroke="#1e1e1e" stroke-width="1.35"/>
<line x1="354.36" y1="503.2" x2="354.36" y2="534.6" stroke="#222" stroke-width="0.9"/>
<line x1="361.87" y1="503.2" x2="361.87" y2="534.6" stroke="#999" stroke-width="0.9"/>
<rect x="340.1" y="507.6" width="14.26" height="1.73" fill="#222"/>
<line x1="340.1" y1="524.24" x2="354.36" y2="524.24" stroke="#222" stroke-width="0.7"/>
<line x1="340.1" y1="527.06" x2="351.09" y2="527.06" stroke="#222" stroke-width="0.7"/>
<line x1="340.1" y1="529.89" x2="351.09" y2="529.89" stroke="#222" stroke-width="0.7"/>
<line x1="351.09" y1="524.24" x2="351.09" y2="534.6" stroke="#222" stroke-width="0.6"/>
<line x1="354.36" y1="507.91" x2="369.8" y2="507.91" stroke="#222" stroke-width="0.6"/>
<line x1="354.36" y1="511.21" x2="369.8" y2="511.21" stroke="#222" stroke-width="1.1"/>
<line x1="354.36" y1="514.98" x2="369.8" y2="514.98" stroke="#222" stroke-width="0.6"/>
<line x1="354.36" y1="518.27" x2="369.8" y2="518.27" stroke="#222" stroke-width="0.6"/>
<line x1="354.36" y1="521.41" x2="369.8" y2="521.41" stroke="#222" stroke-width="1.1"/>
<line x1="340.1" y1="533.19" x2="369.8" y2="533.19" stroke="#222" stroke-width="0.6"/>
<rect x="371.25" y="297" width="25.65" height="39.00" fill="#d1d2d4"/>
<text x="373.45" y="319.5" font-size="9.74" textLength="17" lengthAdjust="spacingAndGlyphs" fill="#231f20" stroke="#231f20" stroke-width="0.04">1007</text>
<text x="390.75" y="319.5" font-size="4.8" textLength="6.2" lengthAdjust="spacingAndGlyphs" fill="#231f20" stroke="#231f20" stroke-width="0.08">лв.</text>
<rect x="399.75" y="297" width="28.00" height="39.00" fill="#d1d2d4"/>
<text x="401.95" y="319.5" font-size="9.74" textLength="17" lengthAdjust="spacingAndGlyphs" fill="#231f20" stroke="#231f20" stroke-width="0.04">1028</text>
<text x="419.25" y="319.5" font-size="4.8" textLength="6.2" lengthAdjust="spacingAndGlyphs" fill="#231f20" stroke="#231f20" stroke-width="0.08">лв.</text>
<rect x="430.6" y="297" width="27.90" height="39.00" fill="#d1d2d4"/>
<text x="432.8" y="319.5" font-size="9.74" textLength="17" lengthAdjust="spacingAndGlyphs" fill="#231f20" stroke="#231f20" stroke-width="0.04">1049</text>
<text x="450.1" y="319.5" font-size="4.8" textLength="6.2" lengthAdjust="spacingAndGlyphs" fill="#231f20" stroke="#231f20" stroke-width="0.08">лв.</text>
<rect x="461.25" y="297" width="27.75" height="39.00" fill="#d1d2d4"/>
<line x1="461.55" y1="335.7" x2="488.7" y2="297.3" stroke="#444" stroke-width="0.6"/>
<rect x="491.75" y="297" width="28.25" height="39.00" fill="#d1d2d4"/>
<line x1="492.05" y1="335.7" x2="519.7" y2="297.3" stroke="#444" stroke-width="0.6"/>
<rect x="522.5" y="297" width="28.00" height="39.00" fill="#d1d2d4"/>
<line x1="522.8" y1="335.7" x2="550.2" y2="297.3" stroke="#444" stroke-width="0.6"/>
<rect x="371.25" y="338" width="25.65" height="37.00" fill="#d1d2d4"/>
<text x="373.45" y="359.5" font-size="9.74" textLength="17" lengthAdjust="spacingAndGlyphs" fill="#231f20" stroke="#231f20" stroke-width="0.04">1217</text>
<text x="390.75" y="359.5" font-size="4.8" textLength="6.2" lengthAdjust="spacingAndGlyphs" fill="#231f20" stroke="#231f20" stroke-width="0.08">лв.</text>
<rect x="399.75" y="338" width="28.00" height="37.00" fill="#d1d2d4"/>
<text x="401.95" y="359.5" font-size="9.74" textLength="17" lengthAdjust="spacingAndGlyphs" fill="#231f20" stroke="#231f20" stroke-width="0.04">1238</text>
<text x="419.25" y="359.5" font-size="4.8" textLength="6.2" lengthAdjust="spacingAndGlyphs" fill="#231f20" stroke="#231f20" stroke-width="0.08">лв.</text>
<rect x="430.6" y="338" width="27.90" height="37.00" fill="#d1d2d4"/>
<text x="432.8" y="359.5" font-size="9.74" textLength="17" lengthAdjust="spacingAndGlyphs" fill="#231f20" stroke="#231f20" stroke-width="0.04">1259</text>
<text x="450.1" y="359.5" font-size="4.8" textLength="6.2" lengthAdjust="spacingAndGlyphs" fill="#231f20" stroke="#231f20" stroke-width="0.08">лв.</text>
<rect x="461.25" y="338" width="27.75" height="37.00" fill="#d1d2d4"/>
<line x1="461.55" y1="374.7" x2="488.7" y2="338.3" stroke="#444" stroke-width="0.6"/>
<rect x="491.75" y="338" width="28.25" height="37.00" fill="#d1d2d4"/>
<line x1="492.05" y1="374.7" x2="519.7" y2="338.3" stroke="#444" stroke-width="0.6"/>
<rect x="522.5" y="338" width="28.00" height="37.00" fill="#d1d2d4"/>
<line x1="522.8" y1="374.7" x2="550.2" y2="338.3" stroke="#444" stroke-width="0.6"/>
<rect x="371.25" y="377" width="25.65" height="38.50" fill="#d1d2d4"/>
<line x1="371.55" y1="415.2" x2="396.59999999999997" y2="377.3" stroke="#444" stroke-width="0.6"/>
<rect x="399.75" y="377" width="28.00" height="38.50" fill="#d1d2d4"/>
<text x="401.75" y="399.25" font-size="9.74" font-weight="bold" textLength="17.2" lengthAdjust="spacingAndGlyphs" fill="#d22418">1154</text>
<text x="419.35" y="399.25" font-size="4.8" font-weight="bold" textLength="6.6" lengthAdjust="spacingAndGlyphs" fill="#d22418">лв.</text>
<rect x="430.6" y="377" width="27.90" height="38.50" fill="#d1d2d4"/>
<text x="432.8" y="399.25" font-size="9.74" textLength="17" lengthAdjust="spacingAndGlyphs" fill="#231f20" stroke="#231f20" stroke-width="0.04">1186</text>
<text x="450.1" y="399.25" font-size="4.8" textLength="6.2" lengthAdjust="spacingAndGlyphs" fill="#231f20" stroke="#231f20" stroke-width="0.08">лв.</text>
<rect x="461.25" y="377" width="27.75" height="38.50" fill="#d1d2d4"/>
<text x="463.45" y="399.25" font-size="9.74" textLength="17" lengthAdjust="spacingAndGlyphs" fill="#231f20" stroke="#231f20" stroke-width="0.04">1207</text>
<text x="480.75" y="399.25" font-size="4.8" textLength="6.2" lengthAdjust="spacingAndGlyphs" fill="#231f20" stroke="#231f20" stroke-width="0.08">лв.</text>
<rect x="491.75" y="377" width="28.25" height="38.50" fill="#d1d2d4"/>
<line x1="492.05" y1="415.2" x2="519.7" y2="377.3" stroke="#444" stroke-width="0.6"/>
<rect x="522.5" y="377" width="28.00" height="38.50" fill="#d1d2d4"/>
<line x1="522.8" y1="415.2" x2="550.2" y2="377.3" stroke="#444" stroke-width="0.6"/>
<rect x="371.25" y="417.5" width="25.65" height="37.50" fill="#d1d2d4"/>
<line x1="371.55" y1="454.7" x2="396.59999999999997" y2="417.8" stroke="#444" stroke-width="0.6"/>
<rect x="399.75" y="417.5" width="28.00" height="37.50" fill="#d1d2d4"/>
<text x="401.95" y="439.25" font-size="9.74" textLength="17" lengthAdjust="spacingAndGlyphs" fill="#231f20" stroke="#231f20" stroke-width="0.04">1322</text>
<text x="419.25" y="439.25" font-size="4.8" textLength="6.2" lengthAdjust="spacingAndGlyphs" fill="#231f20" stroke="#231f20" stroke-width="0.08">лв.</text>
<rect x="430.6" y="417.5" width="27.90" height="37.50" fill="#d1d2d4"/>
<text x="432.8" y="439.25" font-size="9.74" textLength="17" lengthAdjust="spacingAndGlyphs" fill="#231f20" stroke="#231f20" stroke-width="0.04">1343</text>
<text x="450.1" y="439.25" font-size="4.8" textLength="6.2" lengthAdjust="spacingAndGlyphs" fill="#231f20" stroke="#231f20" stroke-width="0.08">лв.</text>
<rect x="461.25" y="417.5" width="27.75" height="37.50" fill="#d1d2d4"/>
<text x="463.45" y="439.25" font-size="9.74" textLength="17" lengthAdjust="spacingAndGlyphs" fill="#231f20" stroke="#231f20" stroke-width="0.04">1364</text>
<text x="480.75" y="439.25" font-size="4.8" textLength="6.2" lengthAdjust="spacingAndGlyphs" fill="#231f20" stroke="#231f20" stroke-width="0.08">лв.</text>
<rect x="491.75" y="417.5" width="28.25" height="37.50" fill="#d1d2d4"/>
<line x1="492.05" y1="454.7" x2="519.7" y2="417.8" stroke="#444" stroke-width="0.6"/>
<rect x="522.5" y="417.5" width="28.00" height="37.50" fill="#d1d2d4"/>
<line x1="522.8" y1="454.7" x2="550.2" y2="417.8" stroke="#444" stroke-width="0.6"/>
<rect x="371.25" y="457" width="25.65" height="37.50" fill="#d1d2d4"/>
<line x1="371.55" y1="494.2" x2="396.59999999999997" y2="457.3" stroke="#444" stroke-width="0.6"/>
<rect x="399.75" y="457" width="28.00" height="37.50" fill="#d1d2d4"/>
<line x1="400.05" y1="494.2" x2="427.45" y2="457.3" stroke="#444" stroke-width="0.6"/>
<rect x="430.6" y="457" width="27.90" height="37.50" fill="#d1d2d4"/>
<line x1="430.90000000000003" y1="494.2" x2="458.2" y2="457.3" stroke="#444" stroke-width="0.6"/>
<rect x="461.25" y="457" width="27.75" height="37.50" fill="#d1d2d4"/>
<line x1="461.55" y1="494.2" x2="488.7" y2="457.3" stroke="#444" stroke-width="0.6"/>
<rect x="491.75" y="457" width="28.25" height="37.50" fill="#d1d2d4"/>
<text x="493.95" y="478.75" font-size="9.74" textLength="17" lengthAdjust="spacingAndGlyphs" fill="#231f20" stroke="#231f20" stroke-width="0.04">1343</text>
<text x="511.25" y="478.75" font-size="4.8" textLength="6.2" lengthAdjust="spacingAndGlyphs" fill="#231f20" stroke="#231f20" stroke-width="0.08">лв.</text>
<rect x="522.5" y="457" width="28.00" height="37.50" fill="#d1d2d4"/>
<text x="524.7" y="478.75" font-size="9.74" textLength="17" lengthAdjust="spacingAndGlyphs" fill="#231f20" stroke="#231f20" stroke-width="0.04">1364</text>
<text x="542.0" y="478.75" font-size="4.8" textLength="6.2" lengthAdjust="spacingAndGlyphs" fill="#231f20" stroke="#231f20" stroke-width="0.08">лв.</text>
<rect x="371.25" y="497" width="25.65" height="38.00" fill="#d1d2d4"/>
<line x1="371.55" y1="534.7" x2="396.59999999999997" y2="497.3" stroke="#444" stroke-width="0.6"/>
<rect x="399.75" y="497" width="28.00" height="38.00" fill="#d1d2d4"/>
<text x="401.95" y="519.0" font-size="9.74" textLength="17" lengthAdjust="spacingAndGlyphs" fill="#231f20" stroke="#231f20" stroke-width="0.04">1469</text>
<text x="419.25" y="519.0" font-size="4.8" textLength="6.2" lengthAdjust="spacingAndGlyphs" fill="#231f20" stroke="#231f20" stroke-width="0.08">лв.</text>
<rect x="430.6" y="497" width="27.90" height="38.00" fill="#d1d2d4"/>
<text x="432.8" y="519.0" font-size="9.74" textLength="17" lengthAdjust="spacingAndGlyphs" fill="#231f20" stroke="#231f20" stroke-width="0.04">1501</text>
<text x="450.1" y="519.0" font-size="4.8" textLength="6.2" lengthAdjust="spacingAndGlyphs" fill="#231f20" stroke="#231f20" stroke-width="0.08">лв.</text>
<rect x="461.25" y="497" width="27.75" height="38.00" fill="#d1d2d4"/>
<text x="463.45" y="519.0" font-size="9.74" textLength="17" lengthAdjust="spacingAndGlyphs" fill="#231f20" stroke="#231f20" stroke-width="0.04">1522</text>
<text x="480.75" y="519.0" font-size="4.8" textLength="6.2" lengthAdjust="spacingAndGlyphs" fill="#231f20" stroke="#231f20" stroke-width="0.08">лв.</text>
<rect x="554.2" y="297.2" width="34.20" height="33.20" fill="#d1d2d4"/>
<text x="568.8000000000001" y="317.5" font-size="20.8" textLength="10.5" lengthAdjust="spacingAndGlyphs" fill="#231f20">N</text>
<text x="558.2" y="320.0" font-size="8.14" font-weight="bold" textLength="5.2" lengthAdjust="spacingAndGlyphs" fill="#d22418">B</text>
<text x="557.1" y="330.0" font-size="7.7" textLength="24.8" lengthAdjust="spacingAndGlyphs" fill="#231f20" stroke="#231f20" stroke-width="0.04">55 - 70см</text>
<rect x="554.2" y="340.0" width="34.20" height="35.00" fill="#d1d2d4"/>
<text x="568.4000000000001" y="360.5" font-size="20.0" textLength="11.2" lengthAdjust="spacingAndGlyphs" fill="#231f20">N</text>
<text x="580.4000000000001" y="350.5" font-size="9" textLength="6" lengthAdjust="spacingAndGlyphs" fill="#231f20">+</text>
<text x="558.2" y="363.5" font-size="8.14" font-weight="bold" textLength="5.2" lengthAdjust="spacingAndGlyphs" fill="#d22418">B</text>
<text x="557.1" y="372.2" font-size="7.7" textLength="24.8" lengthAdjust="spacingAndGlyphs" fill="#231f20" stroke="#231f20" stroke-width="0.04">63 - 70см</text>
<rect x="554.2" y="377.8" width="34.20" height="37.80" fill="#d1d2d4"/>
<text x="571.2" y="400.1" font-size="20.8" textLength="8.0" lengthAdjust="spacingAndGlyphs" fill="#231f20">S</text>
<text x="558.2" y="403.7" font-size="8.14" font-weight="bold" textLength="5.2" lengthAdjust="spacingAndGlyphs" fill="#d22418">B</text>
<text x="557.1" y="412.3" font-size="7.7" textLength="24.8" lengthAdjust="spacingAndGlyphs" fill="#231f20" stroke="#231f20" stroke-width="0.04">55 - 70см</text>
<rect x="554.2" y="425.2" width="34.20" height="29.80" fill="#d1d2d4"/>
<text x="570.7" y="441.8" font-size="20.0" textLength="8.5" lengthAdjust="spacingAndGlyphs" fill="#231f20">S</text>
<text x="580.0" y="431.8" font-size="9" textLength="6" lengthAdjust="spacingAndGlyphs" fill="#231f20">+</text>
<text x="558.2" y="443.9" font-size="8.14" font-weight="bold" textLength="5.2" lengthAdjust="spacingAndGlyphs" fill="#d22418">B</text>
<text x="557.1" y="452.8" font-size="7.7" textLength="24.8" lengthAdjust="spacingAndGlyphs" fill="#231f20" stroke="#231f20" stroke-width="0.04">63 - 70см</text>
<rect x="554.2" y="465.0" width="34.20" height="29.40" fill="#d1d2d4"/>
<text x="570.2" y="483.6" font-size="19.8" textLength="9.9" lengthAdjust="spacingAndGlyphs" fill="#231f20">Z</text>
<text x="558.2" y="483.6" font-size="8.14" font-weight="bold" textLength="5.2" lengthAdjust="spacingAndGlyphs" fill="#d22418">B</text>
<text x="557.1" y="492.5" font-size="7.7" textLength="24.8" lengthAdjust="spacingAndGlyphs" fill="#231f20" stroke="#231f20" stroke-width="0.04">55 - 70см</text>
<rect x="554.2" y="503.2" width="34.20" height="31.40" fill="#d1d2d4"/>
<text x="570.7" y="520.6" font-size="19.8" textLength="7.5" lengthAdjust="spacingAndGlyphs" fill="#231f20">F</text>
<text x="558.2" y="523.9" font-size="8.14" font-weight="bold" textLength="5.2" lengthAdjust="spacingAndGlyphs" fill="#d22418">B</text>
<text x="557.1" y="532.8" font-size="7.7" textLength="24.8" lengthAdjust="spacingAndGlyphs" fill="#231f20" stroke="#231f20" stroke-width="0.04">59 - 70см</text>
<rect x="590.8000000000001" y="296.8" width="26.90" height="32.80" fill="#fff" stroke="#1e1e1e" stroke-width="1.35"/>
<line x1="604.11" y1="296.2" x2="604.11" y2="330.2" stroke="#222" stroke-width="0.9"/>
<line x1="590.2" y1="301.98" x2="604.11" y2="301.98" stroke="#222" stroke-width="1.3"/>
<line x1="590.2" y1="322.72" x2="604.11" y2="322.72" stroke="#222" stroke-width="1.0"/>
<line x1="590.2" y1="324.42" x2="618.3" y2="324.42" stroke="#222" stroke-width="1.0"/>
<line x1="590.2" y1="327.48" x2="618.3" y2="327.48" stroke="#222" stroke-width="0.7"/>
<line x1="604.11" y1="301.13" x2="618.3" y2="301.13" stroke="#222" stroke-width="0.7"/>
<line x1="604.11" y1="307.42" x2="618.3" y2="307.42" stroke="#222" stroke-width="0.7"/>
<line x1="604.11" y1="312.52" x2="618.3" y2="312.52" stroke="#222" stroke-width="1.1"/>
<line x1="604.11" y1="318.3" x2="618.3" y2="318.3" stroke="#222" stroke-width="0.7"/>
<line x1="604.11" y1="323.4" x2="618.3" y2="323.4" stroke="#222" stroke-width="1.1"/>
<rect x="590.8000000000001" y="340.6" width="26.90" height="34.10" fill="#fff" stroke="#1e1e1e" stroke-width="1.35"/>
<line x1="604.11" y1="340.0" x2="604.11" y2="375.3" stroke="#222" stroke-width="0.9"/>
<line x1="590.2" y1="346.35" x2="604.11" y2="346.35" stroke="#222" stroke-width="1.3"/>
<line x1="590.2" y1="366.48" x2="599.75" y2="366.48" stroke="#222" stroke-width="0.7"/>
<line x1="590.2" y1="369.65" x2="599.75" y2="369.65" stroke="#222" stroke-width="1.0"/>
<line x1="599.75" y1="366.48" x2="599.75" y2="375.3" stroke="#222" stroke-width="0.7"/>
<line x1="604.11" y1="346.0" x2="618.3" y2="346.0" stroke="#222" stroke-width="0.7"/>
<line x1="604.11" y1="352.0" x2="618.3" y2="352.0" stroke="#222" stroke-width="0.7"/>
<line x1="604.11" y1="357.65" x2="618.3" y2="357.65" stroke="#222" stroke-width="0.7"/>
<line x1="604.11" y1="363.65" x2="618.3" y2="363.65" stroke="#222" stroke-width="1.2"/>
<line x1="604.11" y1="368.24" x2="618.3" y2="368.24" stroke="#222" stroke-width="0.7"/>
<rect x="591.1" y="379.3" width="26.50" height="33.90" fill="#fff" stroke="#1e1e1e" stroke-width="1.35"/>
<line x1="604.07" y1="378.7" x2="604.07" y2="413.8" stroke="#222" stroke-width="0.9"/>
<line x1="611.28" y1="378.7" x2="611.28" y2="413.8" stroke="#222" stroke-width="0.8"/>
<line x1="590.5" y1="384.67" x2="604.07" y2="384.67" stroke="#222" stroke-width="1.3"/>
<line x1="590.5" y1="407.13" x2="611.28" y2="407.13" stroke="#222" stroke-width="0.7"/>
<line x1="590.5" y1="412.05" x2="611.28" y2="412.05" stroke="#222" stroke-width="0.6"/>
<line x1="604.07" y1="384.32" x2="611.28" y2="384.32" stroke="#222" stroke-width="0.7"/>
<line x1="604.07" y1="390.63" x2="611.28" y2="390.63" stroke="#222" stroke-width="0.7"/>
<line x1="604.07" y1="401.16" x2="611.28" y2="401.16" stroke="#222" stroke-width="0.7"/>
<line x1="604.07" y1="395.9" x2="618.2" y2="395.9" stroke="#222" stroke-width="1.2"/>
<line x1="611.28" y1="379.75" x2="618.2" y2="379.75" stroke="#222" stroke-width="1.2"/>
<rect x="591.1" y="418.3" width="26.50" height="36.90" fill="#fff" stroke="#1e1e1e" stroke-width="1.35"/>
<line x1="604.07" y1="417.7" x2="604.07" y2="455.8" stroke="#222" stroke-width="0.9"/>
<line x1="611.28" y1="417.7" x2="611.28" y2="455.8" stroke="#222" stroke-width="0.8"/>
<line x1="590.5" y1="424.94" x2="604.07" y2="424.94" stroke="#222" stroke-width="1.3"/>
<line x1="590.5" y1="448.56" x2="599.92" y2="448.56" stroke="#222" stroke-width="0.7"/>
<line x1="590.5" y1="451.99" x2="599.92" y2="451.99" stroke="#222" stroke-width="0.7"/>
<line x1="599.92" y1="447.42" x2="599.92" y2="455.8" stroke="#222" stroke-width="0.7"/>
<line x1="604.07" y1="424.56" x2="611.28" y2="424.56" stroke="#222" stroke-width="0.7"/>
<line x1="604.07" y1="430.65" x2="611.28" y2="430.65" stroke="#222" stroke-width="0.7"/>
<line x1="604.07" y1="442.85" x2="611.28" y2="442.85" stroke="#222" stroke-width="0.7"/>
<line x1="604.07" y1="448.56" x2="611.28" y2="448.56" stroke="#222" stroke-width="0.7"/>
<line x1="604.07" y1="436.75" x2="618.2" y2="436.75" stroke="#222" stroke-width="1.2"/>
<line x1="611.28" y1="419.61" x2="618.2" y2="419.61" stroke="#222" stroke-width="1.2"/>
<rect x="591.1" y="459.3" width="26.50" height="34.30" fill="#fff" stroke="#1e1e1e" stroke-width="1.35"/>
<line x1="599.64" y1="458.7" x2="599.64" y2="494.2" stroke="#222" stroke-width="0.9"/>
<line x1="609.06" y1="458.7" x2="609.06" y2="494.2" stroke="#222" stroke-width="0.9"/>
<line x1="590.5" y1="463.49" x2="618.2" y2="463.49" stroke="#222" stroke-width="0.7"/>
<line x1="590.5" y1="469.35" x2="599.64" y2="469.35" stroke="#222" stroke-width="1.3"/>
<line x1="599.64" y1="468.64" x2="609.06" y2="468.64" stroke="#222" stroke-width="0.7"/>
<line x1="599.64" y1="473.96" x2="609.06" y2="473.96" stroke="#222" stroke-width="0.7"/>
<line x1="599.64" y1="480.36" x2="618.2" y2="480.36" stroke="#222" stroke-width="1.0"/>
<line x1="599.64" y1="486.75" x2="609.06" y2="486.75" stroke="#222" stroke-width="1.3"/>
<line x1="609.06" y1="464.2" x2="618.2" y2="464.2" stroke="#888" stroke-width="0.6"/>
<line x1="590.5" y1="492.96" x2="618.2" y2="492.96" stroke="#222" stroke-width="1.2"/>
<rect x="590.6" y="503.8" width="27.30" height="29.90" fill="#fff" stroke="#1e1e1e" stroke-width="1.35"/>
<line x1="603.97" y1="503.2" x2="603.97" y2="534.3" stroke="#222" stroke-width="0.9"/>
<line x1="611.38" y1="503.2" x2="611.38" y2="534.3" stroke="#222" stroke-width="1.2"/>
<rect x="590.0" y="508.18" width="13.96" height="1.55" fill="#222"/>
<line x1="590.0" y1="524.35" x2="603.97" y2="524.35" stroke="#222" stroke-width="0.7"/>
<line x1="590.0" y1="528.08" x2="600.54" y2="528.08" stroke="#222" stroke-width="0.7"/>
<line x1="590.0" y1="531.5" x2="600.54" y2="531.5" stroke="#222" stroke-width="0.7"/>
<line x1="600.54" y1="524.35" x2="600.54" y2="534.3" stroke="#222" stroke-width="0.7"/>
<line x1="603.97" y1="508.18" x2="618.5" y2="508.18" stroke="#222" stroke-width="0.7"/>
<line x1="603.97" y1="511.6" x2="618.5" y2="511.6" stroke="#222" stroke-width="1.2"/>
<line x1="603.97" y1="516.57" x2="618.5" y2="516.57" stroke="#222" stroke-width="0.7"/>
<line x1="603.97" y1="520.93" x2="618.5" y2="520.93" stroke="#222" stroke-width="1.2"/>
<rect x="620" y="297" width="29.60" height="39.00" fill="#d1d2d4"/>
<text x="622.2" y="319.5" font-size="9.74" textLength="17" lengthAdjust="spacingAndGlyphs" fill="#231f20" stroke="#231f20" stroke-width="0.04">1186</text>
<text x="639.5" y="319.5" font-size="4.8" textLength="6.2" lengthAdjust="spacingAndGlyphs" fill="#231f20" stroke="#231f20" stroke-width="0.08">лв.</text>
<rect x="652" y="297" width="29.00" height="39.00" fill="#d1d2d4"/>
<text x="654.2" y="319.5" font-size="9.74" textLength="17" lengthAdjust="spacingAndGlyphs" fill="#231f20" stroke="#231f20" stroke-width="0.04">1207</text>
<text x="671.5" y="319.5" font-size="4.8" textLength="6.2" lengthAdjust="spacingAndGlyphs" fill="#231f20" stroke="#231f20" stroke-width="0.08">лв.</text>
<rect x="683" y="297" width="28.00" height="39.00" fill="#d1d2d4"/>
<line x1="683.3" y1="335.7" x2="710.7" y2="297.3" stroke="#444" stroke-width="0.6"/>
<rect x="713.5" y="297" width="28.50" height="39.00" fill="#d1d2d4"/>
<line x1="713.8" y1="335.7" x2="741.7" y2="297.3" stroke="#444" stroke-width="0.6"/>
<rect x="744.5" y="297" width="29.50" height="39.00" fill="#d1d2d4"/>
<line x1="744.8" y1="335.7" x2="773.7" y2="297.3" stroke="#444" stroke-width="0.6"/>
<rect x="620" y="338" width="29.60" height="37.00" fill="#d1d2d4"/>
<text x="622.2" y="359.5" font-size="9.74" textLength="17" lengthAdjust="spacingAndGlyphs" fill="#231f20" stroke="#231f20" stroke-width="0.04">1343</text>
<text x="639.5" y="359.5" font-size="4.8" textLength="6.2" lengthAdjust="spacingAndGlyphs" fill="#231f20" stroke="#231f20" stroke-width="0.08">лв.</text>
<rect x="652" y="338" width="29.00" height="37.00" fill="#d1d2d4"/>
<text x="654.2" y="359.5" font-size="9.74" textLength="17" lengthAdjust="spacingAndGlyphs" fill="#231f20" stroke="#231f20" stroke-width="0.04">1364</text>
<text x="671.5" y="359.5" font-size="4.8" textLength="6.2" lengthAdjust="spacingAndGlyphs" fill="#231f20" stroke="#231f20" stroke-width="0.08">лв.</text>
<rect x="683" y="338" width="28.00" height="37.00" fill="#d1d2d4"/>
<line x1="683.3" y1="374.7" x2="710.7" y2="338.3" stroke="#444" stroke-width="0.6"/>
<rect x="713.5" y="338" width="28.50" height="37.00" fill="#d1d2d4"/>
<line x1="713.8" y1="374.7" x2="741.7" y2="338.3" stroke="#444" stroke-width="0.6"/>
<rect x="744.5" y="338" width="29.50" height="37.00" fill="#d1d2d4"/>
<line x1="744.8" y1="374.7" x2="773.7" y2="338.3" stroke="#444" stroke-width="0.6"/>
<rect x="620" y="377" width="29.60" height="38.50" fill="#d1d2d4"/>
<text x="622.2" y="399.25" font-size="9.74" textLength="17" lengthAdjust="spacingAndGlyphs" fill="#231f20" stroke="#231f20" stroke-width="0.04">1259</text>
<text x="639.5" y="399.25" font-size="4.8" textLength="6.2" lengthAdjust="spacingAndGlyphs" fill="#231f20" stroke="#231f20" stroke-width="0.08">лв.</text>
<rect x="652" y="377" width="29.00" height="38.50" fill="#d1d2d4"/>
<text x="654.2" y="399.25" font-size="9.74" textLength="17" lengthAdjust="spacingAndGlyphs" fill="#231f20" stroke="#231f20" stroke-width="0.04">1291</text>
<text x="671.5" y="399.25" font-size="4.8" textLength="6.2" lengthAdjust="spacingAndGlyphs" fill="#231f20" stroke="#231f20" stroke-width="0.08">лв.</text>
<rect x="683" y="377" width="28.00" height="38.50" fill="#d1d2d4"/>
<text x="685.2" y="399.25" font-size="9.74" textLength="17" lengthAdjust="spacingAndGlyphs" fill="#231f20" stroke="#231f20" stroke-width="0.04">1312</text>
<text x="702.5" y="399.25" font-size="4.8" textLength="6.2" lengthAdjust="spacingAndGlyphs" fill="#231f20" stroke="#231f20" stroke-width="0.08">лв.</text>
<rect x="713.5" y="377" width="28.50" height="38.50" fill="#d1d2d4"/>
<line x1="713.8" y1="415.2" x2="741.7" y2="377.3" stroke="#444" stroke-width="0.6"/>
<rect x="744.5" y="377" width="29.50" height="38.50" fill="#d1d2d4"/>
<line x1="744.8" y1="415.2" x2="773.7" y2="377.3" stroke="#444" stroke-width="0.6"/>
<rect x="620" y="417.5" width="29.60" height="37.50" fill="#d1d2d4"/>
<text x="622.2" y="439.25" font-size="9.74" textLength="17" lengthAdjust="spacingAndGlyphs" fill="#231f20" stroke="#231f20" stroke-width="0.04">1427</text>
<text x="639.5" y="439.25" font-size="4.8" textLength="6.2" lengthAdjust="spacingAndGlyphs" fill="#231f20" stroke="#231f20" stroke-width="0.08">лв.</text>
<rect x="652" y="417.5" width="29.00" height="37.50" fill="#d1d2d4"/>
<text x="654.2" y="439.25" font-size="9.74" textLength="17" lengthAdjust="spacingAndGlyphs" fill="#231f20" stroke="#231f20" stroke-width="0.04">1448</text>
<text x="671.5" y="439.25" font-size="4.8" textLength="6.2" lengthAdjust="spacingAndGlyphs" fill="#231f20" stroke="#231f20" stroke-width="0.08">лв.</text>
<rect x="683" y="417.5" width="28.00" height="37.50" fill="#d1d2d4"/>
<text x="685.2" y="439.25" font-size="9.74" textLength="17" lengthAdjust="spacingAndGlyphs" fill="#231f20" stroke="#231f20" stroke-width="0.04">1469</text>
<text x="702.5" y="439.25" font-size="4.8" textLength="6.2" lengthAdjust="spacingAndGlyphs" fill="#231f20" stroke="#231f20" stroke-width="0.08">лв.</text>
<rect x="713.5" y="417.5" width="28.50" height="37.50" fill="#d1d2d4"/>
<line x1="713.8" y1="454.7" x2="741.7" y2="417.8" stroke="#444" stroke-width="0.6"/>
<rect x="744.5" y="417.5" width="29.50" height="37.50" fill="#d1d2d4"/>
<line x1="744.8" y1="454.7" x2="773.7" y2="417.8" stroke="#444" stroke-width="0.6"/>
<rect x="620" y="457" width="29.60" height="37.50" fill="#d1d2d4"/>
<line x1="620.3" y1="494.2" x2="649.3000000000001" y2="457.3" stroke="#444" stroke-width="0.6"/>
<rect x="652" y="457" width="29.00" height="37.50" fill="#d1d2d4"/>
<line x1="652.3" y1="494.2" x2="680.7" y2="457.3" stroke="#444" stroke-width="0.6"/>
<rect x="683" y="457" width="28.00" height="37.50" fill="#d1d2d4"/>
<line x1="683.3" y1="494.2" x2="710.7" y2="457.3" stroke="#444" stroke-width="0.6"/>
<rect x="713.5" y="457" width="28.50" height="37.50" fill="#d1d2d4"/>
<text x="715.7" y="478.75" font-size="9.74" textLength="17" lengthAdjust="spacingAndGlyphs" fill="#231f20" stroke="#231f20" stroke-width="0.04">1417</text>
<text x="733.0" y="478.75" font-size="4.8" textLength="6.2" lengthAdjust="spacingAndGlyphs" fill="#231f20" stroke="#231f20" stroke-width="0.08">лв.</text>
<rect x="744.5" y="457" width="29.50" height="37.50" fill="#d1d2d4"/>
<text x="746.7" y="478.75" font-size="9.74" textLength="17" lengthAdjust="spacingAndGlyphs" fill="#231f20" stroke="#231f20" stroke-width="0.04">1469</text>
<text x="764.0" y="478.75" font-size="4.8" textLength="6.2" lengthAdjust="spacingAndGlyphs" fill="#231f20" stroke="#231f20" stroke-width="0.08">лв.</text>
<rect x="620" y="497" width="29.60" height="38.00" fill="#d1d2d4"/>
<text x="622.2" y="519.0" font-size="9.74" textLength="17" lengthAdjust="spacingAndGlyphs" fill="#231f20" stroke="#231f20" stroke-width="0.04">1574</text>
<text x="639.5" y="519.0" font-size="4.8" textLength="6.2" lengthAdjust="spacingAndGlyphs" fill="#231f20" stroke="#231f20" stroke-width="0.08">лв.</text>
<rect x="652" y="497" width="29.00" height="38.00" fill="#d1d2d4"/>
<text x="654.2" y="519.0" font-size="9.74" textLength="17" lengthAdjust="spacingAndGlyphs" fill="#231f20" stroke="#231f20" stroke-width="0.04">1627</text>
<text x="671.5" y="519.0" font-size="4.8" textLength="6.2" lengthAdjust="spacingAndGlyphs" fill="#231f20" stroke="#231f20" stroke-width="0.08">лв.</text>
<rect x="683" y="497" width="28.00" height="38.00" fill="#d1d2d4"/>
<text x="685.2" y="519.0" font-size="9.74" textLength="17" lengthAdjust="spacingAndGlyphs" fill="#231f20" stroke="#231f20" stroke-width="0.04">1690</text>
<text x="702.5" y="519.0" font-size="4.8" textLength="6.2" lengthAdjust="spacingAndGlyphs" fill="#231f20" stroke="#231f20" stroke-width="0.08">лв.</text>
<rect x="306" y="332.6" width="65.00" height="6.50" fill="#fff"/>
<text x="307" y="337.8" font-size="6.83" font-weight="bold" textLength="63" lengthAdjust="spacingAndGlyphs" fill="#231f20" stroke="#231f20" stroke-width="0.25">с вътрешни чекмеджета</text>
<rect x="306" y="417.0" width="65.00" height="6.50" fill="#fff"/>
<text x="307" y="422.2" font-size="6.83" font-weight="bold" textLength="63" lengthAdjust="spacingAndGlyphs" fill="#231f20" stroke="#231f20" stroke-width="0.25">с вътрешни чекмеджета</text>
<rect x="307" y="457.8" width="33.00" height="6.50" fill="#fff"/>
<text x="308" y="463.0" font-size="6.83" font-weight="bold" textLength="25.5" lengthAdjust="spacingAndGlyphs" fill="#231f20" stroke="#231f20" stroke-width="0.25">с три врати</text>
<rect x="306" y="495.6" width="33.50" height="6.50" fill="#fff"/>
<text x="307" y="500.8" font-size="6.83" font-weight="bold" textLength="58" lengthAdjust="spacingAndGlyphs" fill="#231f20" stroke="#231f20" stroke-width="0.25">с външни чекмеджета</text>
<rect x="554.6" y="332.6" width="64.00" height="6.50" fill="#fff"/>
<text x="555.6" y="337.8" font-size="6.83" font-weight="bold" textLength="62.4" lengthAdjust="spacingAndGlyphs" fill="#231f20" stroke="#231f20" stroke-width="0.25">с вътрешни чекмеджета</text>
<rect x="555" y="417.6" width="33.00" height="6.50" fill="#fff"/>
<text x="556" y="422.8" font-size="6.83" font-weight="bold" textLength="31.5" lengthAdjust="spacingAndGlyphs" fill="#231f20" stroke="#231f20" stroke-width="0.25">с вътрешни ч.</text>
<rect x="556" y="457.3" width="33.00" height="6.50" fill="#fff"/>
<text x="557" y="462.5" font-size="6.83" font-weight="bold" textLength="25.8" lengthAdjust="spacingAndGlyphs" fill="#231f20" stroke="#231f20" stroke-width="0.25">с три врати</text>
<rect x="555" y="495.8" width="33.50" height="6.50" fill="#fff"/>
<text x="556" y="501.0" font-size="6.83" font-weight="bold" textLength="59" lengthAdjust="spacingAndGlyphs" fill="#231f20" stroke="#231f20" stroke-width="0.25">с външни чекмеджета</text>
<text x="373" y="501" font-size="6.25" font-weight="bold" textLength="13" lengthAdjust="spacingAndGlyphs" fill="#d22418">леви</text>
<text x="621" y="500.5" font-size="6.25" font-weight="bold" textLength="13" lengthAdjust="spacingAndGlyphs" fill="#d22418">леви</text>
<text x="493" y="501.2" font-size="6.54" textLength="16" lengthAdjust="spacingAndGlyphs" fill="#d22418">десни</text>
<text x="717" y="501.2" font-size="6.54" textLength="16" lengthAdjust="spacingAndGlyphs" fill="#d22418">десни</text>
<text x="493.5" y="520.6" font-size="20" textLength="8" lengthAdjust="spacingAndGlyphs" fill="#231f20">F</text>
<text x="717.5" y="520.6" font-size="20" textLength="8" lengthAdjust="spacingAndGlyphs" fill="#231f20">F</text>
<rect x="523.6" y="503.70000000000005" width="27.50" height="30.20" fill="#fff" stroke="#1e1e1e" stroke-width="1.35"/>
<line x1="537.92" y1="503.1" x2="537.92" y2="534.5" stroke="#222" stroke-width="0.9"/>
<line x1="530.66" y1="503.1" x2="530.66" y2="534.5" stroke="#999" stroke-width="0.9"/>
<rect x="537.92" y="507.5" width="13.78" height="1.73" fill="#222"/>
<line x1="551.7" y1="524.14" x2="537.92" y2="524.14" stroke="#222" stroke-width="0.7"/>
<line x1="551.7" y1="526.96" x2="541.08" y2="526.96" stroke="#222" stroke-width="0.7"/>
<line x1="551.7" y1="529.79" x2="541.08" y2="529.79" stroke="#222" stroke-width="0.7"/>
<line x1="541.08" y1="524.14" x2="541.08" y2="534.5" stroke="#222" stroke-width="0.6"/>
<line x1="537.92" y1="507.81" x2="523.0" y2="507.81" stroke="#222" stroke-width="0.6"/>
<line x1="537.92" y1="511.11" x2="523.0" y2="511.11" stroke="#222" stroke-width="1.1"/>
<line x1="537.92" y1="514.88" x2="523.0" y2="514.88" stroke="#222" stroke-width="0.6"/>
<line x1="537.92" y1="518.17" x2="523.0" y2="518.17" stroke="#222" stroke-width="0.6"/>
<line x1="537.92" y1="521.31" x2="523.0" y2="521.31" stroke="#222" stroke-width="1.1"/>
<line x1="551.7" y1="533.09" x2="523.0" y2="533.09" stroke="#222" stroke-width="0.6"/>
<rect x="744.4" y="503.6" width="27.80" height="30.00" fill="#fff" stroke="#1e1e1e" stroke-width="1.35"/>
<line x1="758.88" y1="503.0" x2="758.88" y2="534.2" stroke="#222" stroke-width="0.9"/>
<line x1="751.54" y1="503.0" x2="751.54" y2="534.2" stroke="#999" stroke-width="0.9"/>
<rect x="758.88" y="507.37" width="13.92" height="1.72" fill="#222"/>
<line x1="772.8" y1="523.9" x2="758.88" y2="523.9" stroke="#222" stroke-width="0.7"/>
<line x1="772.8" y1="526.71" x2="762.07" y2="526.71" stroke="#222" stroke-width="0.7"/>
<line x1="772.8" y1="529.52" x2="762.07" y2="529.52" stroke="#222" stroke-width="0.7"/>
<line x1="762.07" y1="523.9" x2="762.07" y2="534.2" stroke="#222" stroke-width="0.6"/>
<line x1="758.88" y1="507.68" x2="743.8" y2="507.68" stroke="#222" stroke-width="0.6"/>
<line x1="758.88" y1="510.96" x2="743.8" y2="510.96" stroke="#222" stroke-width="1.1"/>
<line x1="758.88" y1="514.7" x2="743.8" y2="514.7" stroke="#222" stroke-width="0.6"/>
<line x1="758.88" y1="517.98" x2="743.8" y2="517.98" stroke="#222" stroke-width="0.6"/>
<line x1="758.88" y1="521.1" x2="743.8" y2="521.1" stroke="#222" stroke-width="1.1"/>
<line x1="772.8" y1="532.8" x2="743.8" y2="532.8" stroke="#222" stroke-width="0.6"/>
<text x="32.6" y="270.4" font-size="11.63" font-weight="bold" textLength="85.2" lengthAdjust="spacingAndGlyphs" fill="#231f20">нощно шкафче</text>
<text x="32.6" y="281.8" font-size="9.01" textLength="24.3" lengthAdjust="spacingAndGlyphs" fill="#231f20" stroke="#231f20" stroke-width="0.1">цена -</text>
<text x="59.4" y="281.8" font-size="9.01" textLength="28.2" lengthAdjust="spacingAndGlyphs" fill="#d22418" stroke="#d22418" stroke-width="0.1">240 лв.</text>
<text x="89.6" y="281.8" font-size="9.01" textLength="30.3" lengthAdjust="spacingAndGlyphs" fill="#231f20" stroke="#231f20" stroke-width="0.1">за 1 бр.</text>
<path d="M43.7,323.2 L81.7,313 M85,312.2 L115,319" stroke="#555" stroke-width="0.6" fill="none"/>
<path d="M43.7,323.2 l2.6,-1.7 M43.7,323.2 l2.9,0.5 M81.7,313 l-2.6,1.7 M81.7,313 l-2.9,-0.5 M85,312.2 l2.8,-0.6 M85,312.2 l2.4,1.6 M115,319 l-2.8,0.6 M115,319 l-2.4,-1.6" stroke="#555" stroke-width="0.6" fill="none"/>
<text x="56.5" y="312.7" font-size="8.28" textLength="8.2" lengthAdjust="spacingAndGlyphs" fill="#231f20" stroke="#231f20" stroke-width="0.03">55</text>
<text x="97" y="312.7" font-size="8.28" textLength="8.2" lengthAdjust="spacingAndGlyphs" fill="#231f20" stroke="#231f20" stroke-width="0.03">35</text>
<path d="M41.8,331 L41.8,370.7 M41.8,331 l-1.1,2.6 M41.8,331 l1.1,2.6 M41.8,370.7 l-1.1,-2.6 M41.8,370.7 l1.1,-2.6" stroke="#555" stroke-width="0.6" fill="none"/>
<text x="31" y="351.7" font-size="9.3" textLength="8.2" lengthAdjust="spacingAndGlyphs" fill="#231f20" stroke="#231f20" stroke-width="0.03">40</text>
<path d="M46.4,330.5 Q46.8,327.8 50,326.9 L80,319.3 Q86,318.3 92,318.8 Q103,320.5 108.5,325 Q111.8,328.5 111.5,336.5 L107,358.5 Q106,361.5 103.5,361.3 L98.7,360.2 L96.5,361.3 L70.7,370.7" stroke="#2b2b2b" stroke-width="1.05" fill="none"/>
<path d="M46.4,330.5 L48.7,372.7 Q50,377 54,378.5 L65.3,382.2 Q68.5,382.5 68.8,379.5 L70,345 Q70,339.5 66.5,337.8 Q63,336 55,333.5 Q47.5,331.5 46.4,330.5" stroke="#2b2b2b" stroke-width="1.05" fill="none"/>
<path d="M47.5,329.5 Q49,328.5 52,328.2" stroke="#2b2b2b" stroke-width="0.6" fill="none"/>
<path d="M62,335.3 L80,329.3 Q87,328.3 93.3,330 L101,333.5 Q103.8,336.5 101.5,338.5 L96,341.3 L78.7,347.3 Q75,348.7 71,348.7" stroke="#2b2b2b" stroke-width="1.05" fill="none"/>
<path d="M86.7,344 L101,349.5 Q103.5,352 101,354 L97.3,356 L73.3,367.3 L70.5,368" stroke="#2b2b2b" stroke-width="1.05" fill="none"/>
<text x="187.2" y="270.7" font-size="10.76" font-weight="bold" textLength="55" lengthAdjust="spacingAndGlyphs" fill="#231f20">скрин Elle</text>
<text x="188.2" y="283.5" font-size="9.74" textLength="87.8" lengthAdjust="spacingAndGlyphs" fill="#231f20" stroke="#231f20" stroke-width="0.08">цена - 366 лв. за 1 бр.</text>
<text x="188" y="292.9" font-size="7.41" font-weight="bold" textLength="99.2" lengthAdjust="spacingAndGlyphs" fill="#d22418" stroke="#d22418" stroke-width="0.15">избор на размери през 1см</text>
<path d="M202.2,299.8 L189.39999999999998,305.2 L189.39999999999998,323.8 M202.2,299.8 L215.0,305.2 L215.0,323.8 M189.39999999999998,305.2 L202.2,312.22 L215.0,305.2" stroke="#d22418" stroke-width="0.9" fill="none"/>
<path d="M202.2,331.1 L202.2,315.22 M202.2,331.1 L191.39999999999998,326.1 M202.2,331.1 L213.0,326.1" stroke="#d22418" stroke-width="0.9" fill="none"/>
<path d="M202.2,313.72 l-1.7600000000000002,3.08 l3.5200000000000005,0 Z" stroke="none" stroke-width="0" fill="#d22418"/>
<path d="M190.99999999999997,325.8 l2.9,0.3 l-1.0,2.2 Z" stroke="none" stroke-width="0" fill="#d22418"/>
<path d="M213.4,325.8 l-2.9,0.3 l1.0,2.2 Z" stroke="none" stroke-width="0" fill="#d22418"/>
<text x="246.7" y="307" font-size="8.72" textLength="40.9" lengthAdjust="spacingAndGlyphs" fill="#231f20" stroke="#231f20" stroke-width="0.03">L 70 - 90см</text>
<text x="246.7" y="317.5" font-size="8.72" textLength="40.9" lengthAdjust="spacingAndGlyphs" fill="#231f20" stroke="#231f20" stroke-width="0.03">B 45 - 50см</text>
<text x="246.7" y="327.7" font-size="8.72" textLength="40.9" lengthAdjust="spacingAndGlyphs" fill="#231f20" stroke="#231f20" stroke-width="0.03">H 70 - 75см</text>
<path d="M191.2,355 L255,347.2 M260.2,347.8 L288.7,353.8 M185.6,360 L185.6,425" stroke="#d0474a" stroke-width="0.6" fill="none"/>
<circle cx="191.2" cy="355" r="0.9" fill="#d0474a"/>
<circle cx="255" cy="347.2" r="0.9" fill="#d0474a"/>
<circle cx="260.2" cy="347.8" r="0.9" fill="#d0474a"/>
<circle cx="288.7" cy="353.8" r="0.9" fill="#d0474a"/>
<circle cx="185.6" cy="360" r="0.9" fill="#d0474a"/>
<circle cx="185.6" cy="425" r="0.9" fill="#d0474a"/>
<text x="216.7" y="348.7" font-size="8.87" textLength="8.3" lengthAdjust="spacingAndGlyphs" fill="#231f20" stroke="#231f20" stroke-width="0.03">90</text>
<text x="271.5" y="348.7" font-size="8.87" textLength="7.7" lengthAdjust="spacingAndGlyphs" fill="#231f20" stroke="#231f20" stroke-width="0.03">50</text>
<text x="175.6" y="392.4" font-size="9.74" textLength="8" lengthAdjust="spacingAndGlyphs" fill="#231f20" stroke="#231f20" stroke-width="0.03">75</text>
<path d="M191,361 L258,351.6 Q275,352 283,358 Q287.5,362 286.5,368 L279.5,411 Q278,417 274,416.5 L270,414.5 L219,430" stroke="#2b2b2b" stroke-width="1.0" fill="none"/>
<path d="M191,361 L195.5,425 Q198,433 205,437 L213,440.5 Q217.5,441 218,437.5 L218.5,381 Q218,372.5 210,369.5 L191,361" stroke="#2b2b2b" stroke-width="1.0" fill="none"/>
<path d="M210,368.5 L257.5,360 L280,366 L219,378.5" stroke="#2b2b2b" stroke-width="0.8" fill="none"/>
<path d="M257.6,352 L257.6,360" stroke="#2b2b2b" stroke-width="0.6" fill="none"/>
<path d="M219,381 L279,368.5 M219,394.4 L279,381 M219,417 L279,400 M219,430 L273,413 M219,432 L273,415" stroke="#2b2b2b" stroke-width="0.9" fill="none"/>
<text x="30.6" y="420.4" font-size="11.19" font-weight="bold" textLength="54.1" lengthAdjust="spacingAndGlyphs" fill="#231f20">легло Elle</text>
<rect x="30.6" y="423.8" width="136.00" height="1.80" fill="#d22418"/>
<rect x="31" y="431.3" width="55.00" height="103.00" fill="#d1d2d4"/>
<rect x="129.1" y="431.3" width="37.50" height="103.40" fill="#d1d2d4"/>
<rect x="31" y="459.0" width="135.60" height="1.00" fill="#58595b"/>
<rect x="31" y="483.6" width="135.60" height="1.00" fill="#8a8b8d"/>
<rect x="31" y="508.0" width="135.60" height="1.10" fill="#231f20"/>
<text x="35.3" y="444.4" font-size="7.7" textLength="45" lengthAdjust="spacingAndGlyphs" fill="#231f20">размери в см</text>
<text x="46" y="452.8" font-size="9.16" fill="#231f20">L</text>
<text x="59.8" y="454" font-size="8.72" fill="#231f20">B</text>
<text x="90.7" y="444.4" font-size="7.7" textLength="32.8" lengthAdjust="spacingAndGlyphs" fill="#231f20">за матрак</text>
<text x="137.6" y="444.4" font-size="7.7" textLength="20.6" lengthAdjust="spacingAndGlyphs" fill="#231f20">цена*</text>
<text x="41" y="473" font-size="9.74" textLength="29" lengthAdjust="spacingAndGlyphs" fill="#231f20">144/204</text>
<text x="90.3" y="473" font-size="9.74" textLength="29.4" lengthAdjust="spacingAndGlyphs" fill="#231f20">140/200</text>
<text x="131.6" y="473" font-size="9.74" textLength="30.4" lengthAdjust="spacingAndGlyphs" fill="#231f20">1237 лв.</text>
<text x="42.3" y="499.6" font-size="10.17" textLength="29.6" lengthAdjust="spacingAndGlyphs" fill="#d22418">164/204</text>
<text x="89.7" y="499.6" font-size="10.17" textLength="29.1" lengthAdjust="spacingAndGlyphs" fill="#d22418">160/200</text>
<text x="132.9" y="499.6" font-size="10.17" font-weight="bold" textLength="29.4" lengthAdjust="spacingAndGlyphs" fill="#d22418">1258лв.</text>
<text x="42.3" y="526.3" font-size="10.03" textLength="29.6" lengthAdjust="spacingAndGlyphs" fill="#231f20">184/204</text>
<text x="88.4" y="526.3" font-size="10.03" textLength="29.5" lengthAdjust="spacingAndGlyphs" fill="#231f20">180/200</text>
<text x="132" y="526.3" font-size="10.03" textLength="29.6" lengthAdjust="spacingAndGlyphs" fill="#231f20">1363 лв.</text>
<text x="78.5" y="546" font-size="8.58" textLength="92.5" lengthAdjust="spacingAndGlyphs" fill="#231f20" word-spacing="-1" stroke="#231f20" stroke-width="0.12">*Цените са без включен матрак.</text>
<text x="173.1" y="518" font-size="9.16" font-weight="bold" textLength="25.2" lengthAdjust="spacingAndGlyphs" fill="#231f20" stroke="#231f20" stroke-width="0.15">Огънати</text>
<text x="201.1" y="518" font-size="9.16" font-weight="bold" textLength="25.7" lengthAdjust="spacingAndGlyphs" fill="#231f20" stroke="#231f20" stroke-width="0.15">детайли</text>
<text x="229.7" y="518" font-size="9.16" font-weight="bold" textLength="6.8" lengthAdjust="spacingAndGlyphs" fill="#231f20" stroke="#231f20" stroke-width="0.15">не</text>
<text x="239" y="518" font-size="9.16" font-weight="bold" textLength="5.7" lengthAdjust="spacingAndGlyphs" fill="#231f20" stroke="#231f20" stroke-width="0.15">се</text>
<text x="247.1" y="518" font-size="9.16" font-weight="bold" textLength="35.8" lengthAdjust="spacingAndGlyphs" fill="#231f20" stroke="#231f20" stroke-width="0.15">изработват</text>
<text x="173.1" y="527.8" font-size="9.16" font-weight="bold" textLength="5.7" lengthAdjust="spacingAndGlyphs" fill="#231f20" stroke="#231f20" stroke-width="0.15">от</text>
<text x="184.5" y="527.8" font-size="9.16" font-weight="bold" textLength="13.0" lengthAdjust="spacingAndGlyphs" fill="#231f20" stroke="#231f20" stroke-width="0.15">MDF</text>
<text x="202" y="527.8" font-size="9.16" font-weight="bold" textLength="11.8" lengthAdjust="spacingAndGlyphs" fill="#231f20" stroke="#231f20" stroke-width="0.15">high</text>
<text x="219.5" y="527.8" font-size="9.16" font-weight="bold" textLength="14.5" lengthAdjust="spacingAndGlyphs" fill="#231f20" stroke="#231f20" stroke-width="0.15">gloss</text>
<text x="239" y="527.8" font-size="9.16" font-weight="bold" textLength="14.6" lengthAdjust="spacingAndGlyphs" fill="#231f20" stroke="#231f20" stroke-width="0.15">0080</text>
<text x="259.3" y="527.8" font-size="9.16" font-weight="bold" textLength="3.3" lengthAdjust="spacingAndGlyphs" fill="#231f20" stroke="#231f20" stroke-width="0.15">и</text>
<text x="265.8" y="527.8" font-size="9.16" font-weight="bold" textLength="17.6" lengthAdjust="spacingAndGlyphs" fill="#231f20" stroke="#231f20" stroke-width="0.15">0085!</text>
<rect x="30" y="563.3" width="533.70" height="1.90" fill="#d22418"/>
<text x="30.5" y="573.8" font-size="9.45" textLength="202.1" lengthAdjust="spacingAndGlyphs" fill="#231f20" word-spacing="-1" stroke="#231f20" stroke-width="0.12">Всички цени са препоръчителни в лева за 1 брой с включен ДДС.</text>
<rect x="566.05" y="553.85" width="6.05" height="15.4" rx="0.8" fill="#d22418"/>
<path d="M568.1,555.9 L570.3,555.9 L569.8,565.4 L568.6,565.4 Z" stroke="none" stroke-width="0" fill="#fff"/>
<rect x="568.5" y="566.1" width="1.50" height="1.90" fill="#fff"/>
<text x="576" y="566" font-size="8.72" textLength="206.5" lengthAdjust="spacingAndGlyphs" fill="#231f20" word-spacing="-1" stroke="#231f20" stroke-width="0.12">Схеми и размери на всички разпределения на гардероби на стр. 12 и 13.</text>
</svg>
</body></html>
